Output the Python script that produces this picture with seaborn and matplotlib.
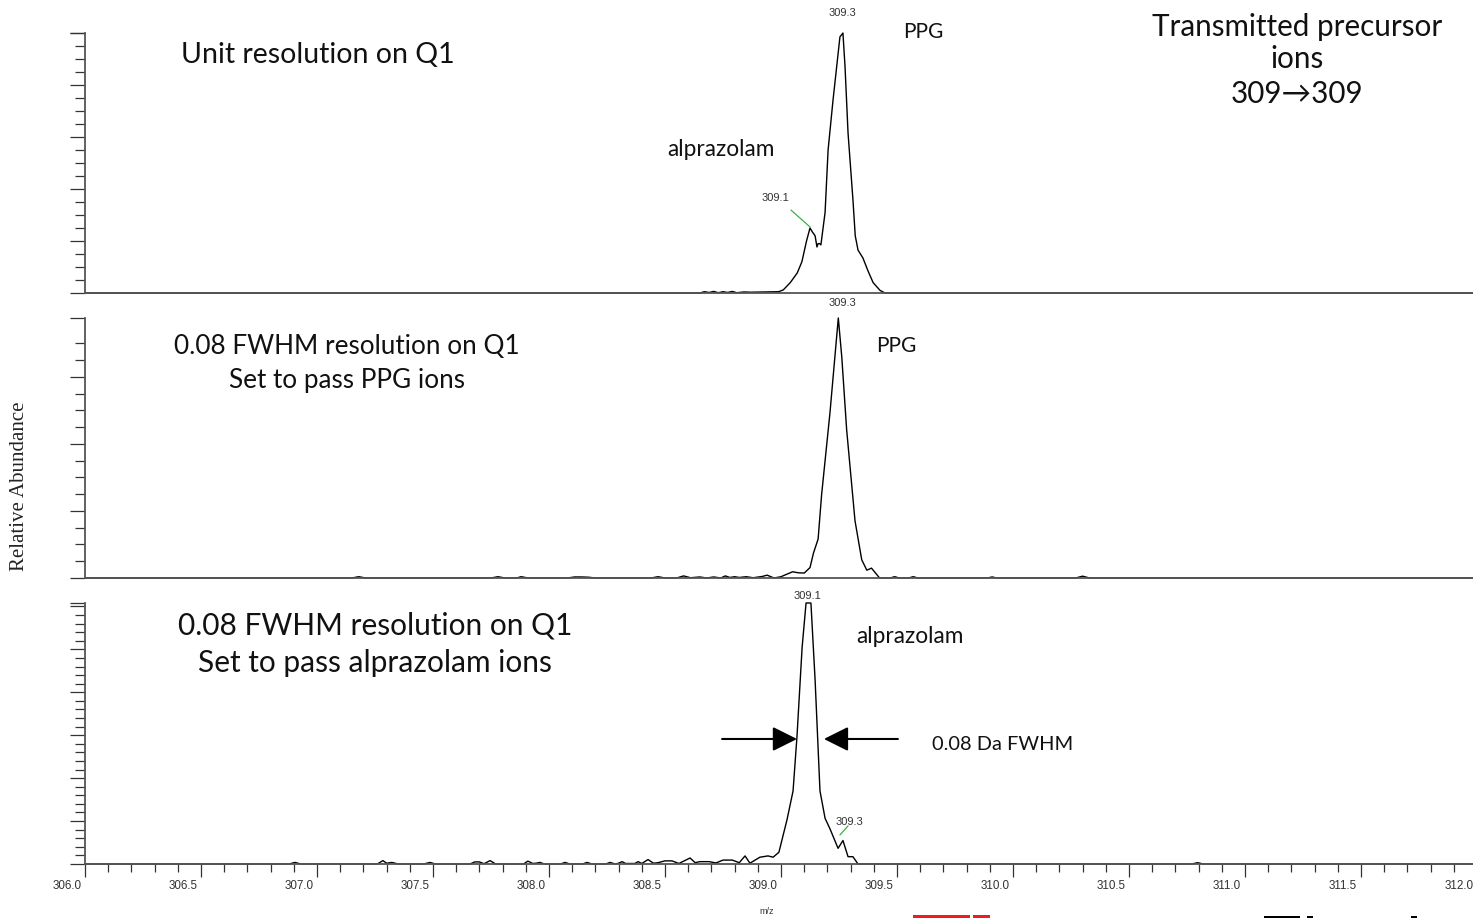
import numpy as np
import pandas as pd
import matplotlib
matplotlib.use("Agg")
import matplotlib.pyplot as plt
from matplotlib.ticker import FixedLocator, NullFormatter
from matplotlib.patches import Rectangle
from matplotlib.transforms import ScaledTranslation
import seaborn as sns

# ---------------- data ----------------
top_mz = [306.00, 308.65, 308.67, 308.69, 308.71, 308.73, 308.75, 308.77, 308.79, 308.81,
          308.84, 308.87, 308.93, 308.99, 309.01, 309.04, 309.07, 309.09, 309.11, 309.125,
          309.135, 309.147, 309.155, 309.160, 309.166, 309.172, 309.190, 309.203, 309.224, 309.254,
          309.267, 309.276, 309.289, 309.310, 309.320, 309.332, 309.353, 309.375, 309.397, 309.427,
          309.448, 312.00]
top_int = [0, 0, 0.5, 0.2, 0.6, 0.1, 0.5, 0.2, 0.6, 0.1,
           0.4, 0.3, 0.4, 0.5, 1.2, 4.0, 7.7, 12.0, 20.0, 25.0,
           23.5, 22.0, 17.7, 19.0, 19.0, 18.5, 31.0, 55.0, 74.0, 98.5,
           100.0, 87.0, 61.5, 36.0, 22.0, 16.5, 13.5, 8.5, 4.0, 1.0,
           0.0, 0]

mid_mz = [306.00, 307.15, 307.18, 307.21, 307.75, 307.78, 307.81, 307.86, 307.88, 307.91,
          308.08, 308.11, 308.14, 308.17, 308.20, 308.44, 308.47, 308.50, 308.55, 308.58,
          308.61, 308.65, 308.68, 308.71, 308.74, 308.76, 308.78, 308.80, 308.82, 308.85,
          308.88, 308.92, 308.94, 308.97, 309.00, 309.05, 309.075, 309.10, 309.125, 309.14,
          309.16, 309.175, 309.211, 309.247, 309.262, 309.283, 309.319, 309.348, 309.37, 309.39,
          309.425, 309.47, 309.49, 309.51, 309.55, 309.57, 309.59, 309.89, 309.91, 309.93,
          310.27, 310.30, 310.33, 312.00]
mid_int = [0, 0, 0.5, 0, 0, 0.5, 0, 0, 0.5, 0,
           0, 0.4, 0.4, 0.3, 0, 0, 0.5, 0, 0, 0.8,
           0.1, 0.4, 0, 0.4, 0, 0.8, 0.2, 0.5, 0.2, 0.5,
           0.1, 0.6, 1.1, 0, 0.5, 2.4, 2.0, 1.9, 4.0, 9.6,
           15.0, 32.0, 63.5, 100.0, 85.0, 57.0, 22.0, 7.0, 3.0, 3.8,
           0, 0, 0.5, 0, 0, 0.5, 0, 0, 0.4, 0,
           0, 0.7, 0, 0]

bot_mz = [306.00, 306.88, 306.905, 306.93, 307.26, 307.284, 307.30, 307.323, 307.35, 307.46,
          307.487, 307.51, 307.66, 307.68, 307.70, 307.72, 307.746, 307.77, 307.89, 307.909,
          307.93, 307.945, 307.961, 307.98, 308.05, 308.069, 308.09, 308.145, 308.164, 308.185,
          308.245, 308.263, 308.285, 308.30, 308.315, 308.33, 308.37, 308.384, 308.40, 308.427,
          308.45, 308.47, 308.50, 308.53, 308.56, 308.608, 308.63, 308.65, 308.69, 308.72,
          308.75, 308.79, 308.82, 308.845, 308.866, 308.909, 308.944, 308.966, 308.991, 309.026,
          309.052, 309.069, 309.091, 309.108, 309.129, 309.147, 309.168, 309.19, 309.211, 309.246,
          309.267, 309.289, 309.31, 309.332, 310.77, 310.796, 310.82, 312.00]
bot_int = [0, 0, 0.6, 0, 0, 1.3, 0.3, 0.6, 0, 0,
           0.6, 0, 0, 0.8, 0.8, 0.1, 1.3, 0, 0, 1.1,
           0.2, 0.3, 0.6, 0, 0, 0.6, 0, 0, 0.6, 0,
           0, 0.6, 0, 0.3, 0.9, 0.2, 0.2, 0.9, 0.2, 1.7,
           0.3, 0.5, 1.2, 1.2, 0.2, 2.3, 0.5, 0.9, 0.9, 0.4,
           1.5, 1.5, 0.5, 3.1, 0.3, 2.6, 3.1, 2.6, 4.5, 17.0,
           28.0, 49.0, 83.0, 100.0, 100.0, 70.5, 28.0, 17.5, 13.5, 6.0,
           9.0, 2.8, 2.8, 0, 0, 0.5, 0, 0]

x_major = [306.0, 306.5, 307.0, 307.5, 308.0, 308.5, 309.0, 309.5, 310.0, 310.5, 311.0, 311.5, 312.0]
x_labels = ["306.0", "306.5", "307.0", "307.5", "308.0", "308.5", "309.0", "309.5",
            "310.0", "310.5", "311.0", "311.5", "312.0"]

# ---------------- style ----------------
sns.set_style("ticks")
plt.rcParams['font.family'] = ['Lato', 'DejaVu Sans']

W, H = 1473, 918
fig = plt.figure(figsize=(W / 100, H / 100), dpi=100)

def px_axes(x0, y_top, x1, y_bot):
    return [x0 / W, 1 - y_bot / H, (x1 - x0) / W, (y_bot - y_top) / H]

ax0 = fig.add_axes(px_axes(85, 33, 1477, 293))
ax1 = fig.add_axes(px_axes(85, 318, 1477, 578))
ax2 = fig.add_axes(px_axes(85, 603, 1477, 864))
axes = [ax0, ax1, ax2]

XMIN, XMAX = 306.0, 312.0

# per-panel y tick layout: (minor step, number of minor steps, major every)
tick_layout = [(5.0, 20, 4), (6.45, 14, 4), (3.29, 30, 5)]

datasets = [(top_mz, top_int), (mid_mz, mid_int), (bot_mz, bot_int)]
for ax, (mz, inten), (step, n, every) in zip(axes, datasets, tick_layout):
    df = pd.DataFrame({"mz": mz, "intensity": inten})
    sns.lineplot(data=df, x="mz", y="intensity", ax=ax, color="black",
                 linewidth=1.0, estimator=None, sort=False)
    for ln in ax.lines:
        ln.set_clip_on(False)
    ax.set_xlim(XMIN, XMAX)
    ax.set_ylim(0, 100)
    ax.set_xlabel("")
    ax.set_ylabel("")
    for s in ["top", "right"]:
        ax.spines[s].set_visible(False)
    for s in ["left", "bottom"]:
        ax.spines[s].set_color("#555555")
        ax.spines[s].set_linewidth(1.3)
    ticks = [i * step for i in range(n + 1)]
    major = [t for i, t in enumerate(ticks) if i % every == 0] + [100.0]
    minor = [t for i, t in enumerate(ticks) if i % every != 0]
    ax.yaxis.set_major_locator(FixedLocator(major))
    ax.yaxis.set_minor_locator(FixedLocator(minor))
    ax.yaxis.set_major_formatter(NullFormatter())
    ax.tick_params(axis="y", which="major", direction="out", length=10.5, width=0.9,
                   color="#333333", labelleft=False)
    ax.tick_params(axis="y", which="minor", direction="out", length=7, width=0.9,
                   color="#333333")
    ax.set_facecolor("none")

for ax in (ax0, ax1):
    ax.tick_params(axis="x", which="both", bottom=False, labelbottom=False)

ax2.xaxis.set_major_locator(FixedLocator(x_major))
ax2.xaxis.set_minor_locator(FixedLocator([306.0 + 0.1 * i for i in range(61)]))
ax2.set_xticklabels(x_labels)
ax2.tick_params(axis="x", which="major", direction="out", length=9.5, width=0.9,
                color="#333333", pad=2, labelsize=8.4, labelcolor="#333333")
ax2.tick_params(axis="x", which="minor", direction="out", length=6, width=0.9,
                color="#333333")
offset = ScaledTranslation(-18 / 100, 0, fig.dpi_scale_trans)
for lab in ax2.get_xticklabels():
    lab.set_fontfamily("Liberation Sans")
    lab.set_transform(lab.get_transform() + offset)

MED = 16
SMALL = 8.0
small_kw = dict(fontsize=SMALL, color="#333333", family="Liberation Sans",
                ha="center", va="center")
big_kw = dict(ha="center", va="center", color="#111111")
green = "#3cb043"

# ---- top panel ----
ax0.text(306.414, 91.5, "Unit resolution on Q1", fontsize=20.5, ha="left", va="center",
         color="#111111")
ax0.text(309.612, 100.4, "PPG", fontsize=15, ha="center", va="center", color="#111111")
ax0.text(308.741, 55.0, "alprazolam", fontsize=16.3, ha="center", va="center", color="#111111")
ax0.text(308.974, 36.5, "309.1", **small_kw)
ax0.plot([309.043, 309.125], [31.9, 25.4], color=green, lw=0.9)
ax0.text(309.263, 107.7, "309.3", clip_on=False, **small_kw)
for line, y in zip(["Transmitted precursor", "ions", "309\u2192309"], [102.3, 90.0, 76.5]):
    ax0.text(311.224, y, line, fontsize=21.3, clip_on=False, **big_kw)

# ---- middle panel ----
for line, y in zip(["0.08 FWHM resolution on Q1", "Set to pass PPG ions"], [89.2, 75.8]):
    ax1.text(307.129, y, line, fontsize=18.8, **big_kw)
ax1.text(309.263, 105.8, "309.3", clip_on=False, **small_kw)
ax1.text(309.496, 89.2, "PPG", fontsize=15, ha="center", va="center", color="#111111")

# ---- bottom panel ----
for line, y in zip(["0.08 FWHM resolution on Q1", "Set to pass alprazolam ions"], [91.4, 77.2]):
    ax2.text(307.25, y, line, fontsize=21.5, **big_kw)
ax2.text(309.116, 102.7, "309.1", clip_on=False, **small_kw)
ax2.text(309.556, 87.0, "alprazolam", fontsize=16.3, ha="center", va="center", color="#111111")
arrow_kw = dict(arrowstyle="-|>,head_length=1.0,head_width=0.5", mutation_scale=15,
                color="black", lw=1.5, shrinkA=0, shrinkB=0)
ax2.annotate("", xy=(309.069, 47.9), xytext=(308.746, 47.9), arrowprops=arrow_kw)
ax2.annotate("", xy=(309.185, 47.9), xytext=(309.504, 47.9), arrowprops=arrow_kw)
ax2.text(309.651, 45.6, "0.08 Da FWHM", fontsize=14.4, ha="left", va="center", color="#111111")
ax2.text(309.297, 16.1, "309.3", **small_kw)
ax2.plot([309.254, 309.289], [11.1, 14.6], color=green, lw=0.9)

# ---- figure-level labels ----
fig.text(20 / W, 1 - 486 / H, "Relative Abundance", rotation=90, ha="center", va="center",
         family="Liberation Serif", fontsize=15, color="#222222")
fig.text(767 / W, 1 - 912 / H, "m/z", ha="center", va="center", family="Liberation Sans",
         fontsize=6.5, color="#333333")

# logo fragments cropped at the bottom edge
for (x0, x1, y0, c) in [(913, 970, 915, "#ee1c1c"), (973, 990, 915, "#ee1c1c"),
                        (1264, 1300, 916, "black"), (1307, 1313, 915.5, "black"),
                        (1411, 1417, 915.5, "black")]:
    fig.add_artist(Rectangle((x0 / W, 0), (x1 - x0) / W, (H - y0) / H,
                             transform=fig.transFigure, color=c, lw=0))

fig.savefig("out.png", dpi=100)
